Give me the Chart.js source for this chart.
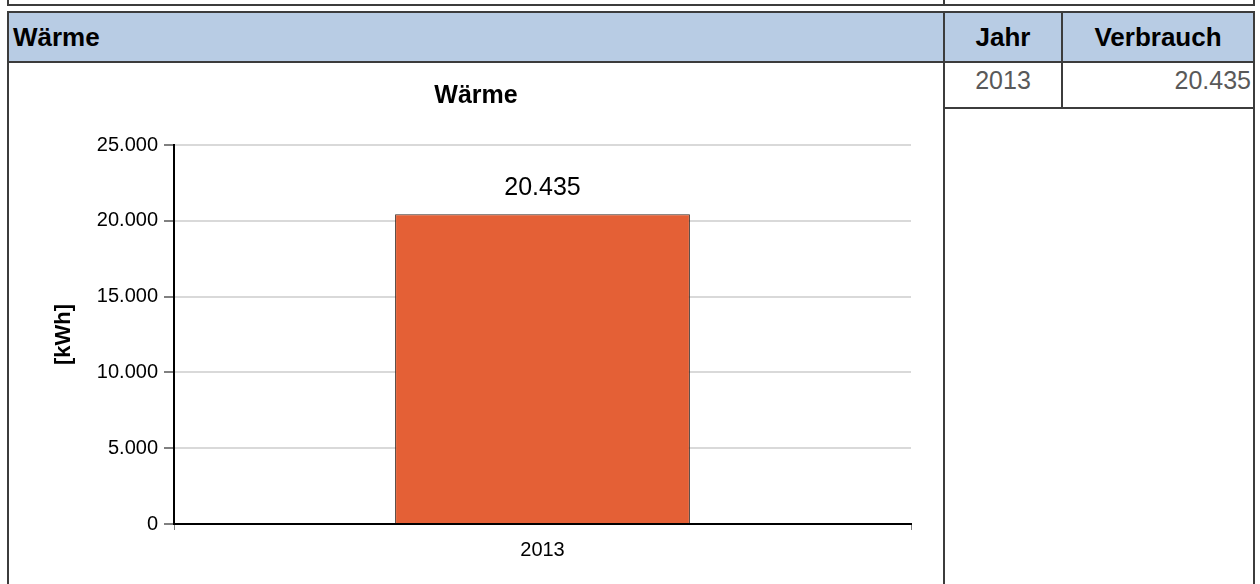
<!DOCTYPE html>
<html>
<head>
<meta charset="utf-8">
<script src="https://cdn.jsdelivr.net/npm/chart.js@4/dist/chart.umd.min.js"></script>
<style>
    body { margin: 0; background: #fff; font-family: "Liberation Sans", Arial, sans-serif; width: 1260px; height: 584px; overflow: hidden; position: relative; }
    .box { position: absolute; box-sizing: border-box; border: 2px solid #3c3c3c; }
    .head { background: #b8cce4; font-weight: bold; font-size: 26px; line-height: 24px; color: #000; padding-top: 12px; }
    .cell { font-size: 25px; line-height: 22px; color: #595959; padding-top: 6px; }
    #chartWrap { position: absolute; left: 9px; top: 63px; width: 934px; height: 521px; }
</style>
</head>
<body>
    <!-- fila superior (recortada) -->
    <div class="box" style="left:7px; top:-20px; width:938px; height:26px;"></div>
    <div class="box" style="left:943px; top:-20px; width:312px; height:26px;"></div>

    <!-- cabecera -->
    <div class="box head" style="left:7px; top:11px; width:938px; height:52px; padding-left:4px;">Wärme</div>
    <div class="box head" style="left:943px; top:11px; width:120px; height:52px; text-align:center;">Jahr</div>
    <div class="box head" style="left:1061px; top:11px; width:194px; height:52px; text-align:center;">Verbrauch</div>

    <!-- celdas -->
    <div class="box" style="left:7px; top:61px; width:938px; height:540px;"></div>
    <div class="box cell" style="left:943px; top:61px; width:120px; height:48px; text-align:center;" id="cellYear"></div>
    <div class="box cell" style="left:1061px; top:61px; width:194px; height:48px; text-align:right; padding-right:2px;" id="cellValue"></div>
    <div class="box" style="left:943px; top:107px; width:312px; height:500px;"></div>

    <div id="chartWrap"><canvas id="chartWaerme"></canvas></div>

<script>
// Datos
const years = ['2013'];
const verbrauch = [20435];
const yTicks = [0, 5000, 10000, 15000, 20000, 25000];

// formato alemán: 20435 -> 20.435
function fmt(v) {
    return String(Math.round(v)).replace(/\B(?=(\d{3})+(?!\d))/g, '.');
}

document.getElementById('cellYear').textContent = years[0];
document.getElementById('cellValue').textContent = fmt(verbrauch[0]);

// ===== ETIQUETAS SOBRE LAS BARRAS =====
const valueLabels = {
    id: 'valueLabels',
    afterDatasetsDraw(chart) {
        const ctx = chart.ctx;
        const meta = chart.getDatasetMeta(0);
        ctx.save();
        ctx.font = '25px "Liberation Sans", Arial, sans-serif';
        ctx.fillStyle = '#000';
        ctx.textAlign = 'center';
        ctx.textBaseline = 'middle';
        meta.data.forEach((bar, i) => {
            ctx.fillText(fmt(verbrauch[i]), bar.x, bar.y - 26);
        });
        ctx.restore();
    }
};

Chart.defaults.font.family = '"Liberation Sans", Arial, sans-serif';
Chart.defaults.color = '#000';

new Chart(document.getElementById('chartWaerme'), {
    type: 'bar',
    data: {
        labels: years,
        datasets: [{
            data: verbrauch,
            backgroundColor: '#e46036',
            borderColor: '#3a2a22',
            borderWidth: 1,
            barPercentage: 0.4,
            categoryPercentage: 1
        }]
    },
    options: {
        responsive: true,
        maintainAspectRatio: false,
        animation: false,
        layout: { padding: { left: 32, right: 32, top: 0, bottom: 14 } },
        plugins: {
            legend: { display: false },
            tooltip: { enabled: false },
            title: {
                display: true,
                text: 'Wärme',
                font: { size: 25, weight: 'bold' },
                color: '#000',
                padding: { top: 18, bottom: 34 }
            }
        },
        scales: {
            x: {
                offset: true,
                grid: { drawOnChartArea: false, drawTicks: true, tickLength: 6, tickColor: '#808080', offset: true },
                border: { color: '#000', width: 2 },
                ticks: { font: { size: 20 }, color: '#000', padding: 8 }
            },
            y: {
                min: 0,
                max: 25000,
                afterBuildTicks: s => { s.ticks = yTicks.map(v => ({ value: v })); },
                afterFit: s => { s.width = 133; },
                grid: { color: '#d9d9d9', lineWidth: 2, tickColor: '#808080', tickLength: 10 },
                border: { color: '#000', width: 2 },
                ticks: { font: { size: 20 }, color: '#000', padding: 6, callback: v => fmt(v) },
                title: {
                    display: true,
                    text: '[kWh]',
                    font: { size: 22, weight: 'bold' },
                    color: '#000',
                    padding: { top: 10, bottom: 0 }
                }
            }
        }
    },
    plugins: [valueLabels]
});
</script>
</body>
</html>
